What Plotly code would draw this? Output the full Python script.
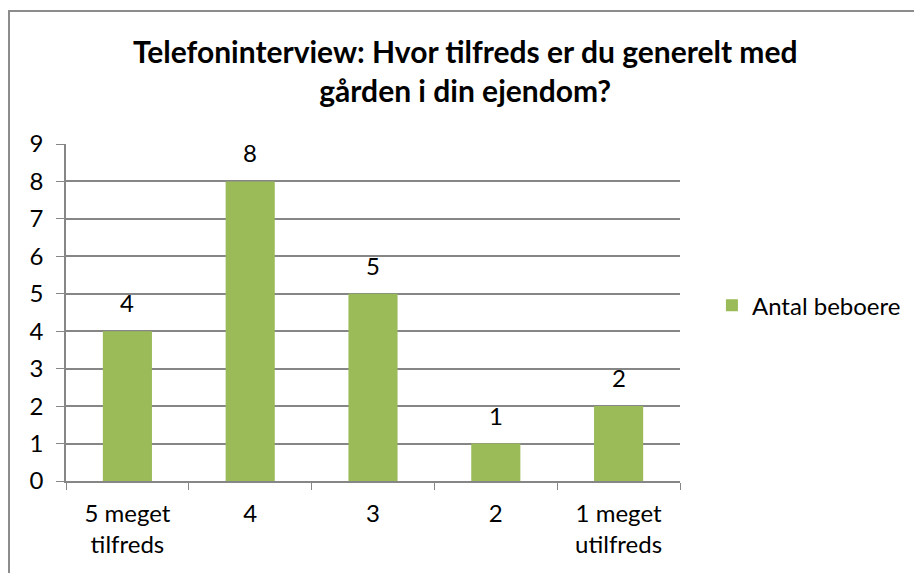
import plotly.graph_objects as go

# Telefoninterview - tilfredshed med gården
kategorier = ["5 meget<br>tilfreds", "4", "3", "2", "1 meget<br>utilfreds"]
antal_beboere = [4, 8, 5, 1, 2]
serie_navn = "Antal beboere"

groen = "#9BBB59"
graa = "#868686"
skrift = "Lato, Open Sans, sans-serif"

fig = go.Figure()

fig.add_trace(go.Bar(
    x=kategorier,
    y=antal_beboere,
    name=serie_navn,
    marker=dict(color=groen, line=dict(width=0)),
    cliponaxis=False
))

# dataetiketter over søjlerne (x som kategori-indeks)
for i, val in enumerate(antal_beboere):
    fig.add_annotation(
        x=i, y=val, text=str(val), showarrow=False,
        yanchor="bottom", yshift=12,
        font=dict(size=24, color="black", family=skrift)
    )

fig.update_layout(
    width=914, height=573,
    paper_bgcolor="white", plot_bgcolor="white",
    margin=dict(l=66, r=234, t=144, b=92, autoexpand=False),
    font=dict(family=skrift, size=24, color="black"),
    title=dict(
        text="<b>Telefoninterview: Hvor tilfreds er du generelt med<br>gården i din ejendom?</b>",
        xref="container", x=0.509, xanchor="center",
        yref="container", y=1 - 63 / 573, yanchor="middle",
        font=dict(size=30, family=skrift, color="black")
    ),
    bargap=0.6,
    showlegend=True,
    legend=dict(
        x=1.052, y=0.52, xanchor="left", yanchor="middle",
        font=dict(size=24, family=skrift),
        itemwidth=30,
        bgcolor="rgba(0,0,0,0)"
    ),
    xaxis=dict(
        type="category",
        showline=True, linecolor=graa, linewidth=1.5,
        ticks="outside", tickson="boundaries", ticklen=7, tickcolor=graa,
        showgrid=False, tickfont=dict(size=24), ticklabelstandoff=10
    ),
    yaxis=dict(
        range=[0, 9], dtick=1,
        showline=True, linecolor=graa, linewidth=1.5,
        ticks="outside", ticklen=8, tickcolor=graa,
        showgrid=True, gridcolor=graa, gridwidth=1.5,
        zeroline=False, tickfont=dict(size=24), ticklabelstandoff=8
    ),
    shapes=[dict(
        type="rect", xref="paper", yref="paper",
        x0=(9 - 66) / 614, x1=1.5, y0=-0.5, y1=(481 - 11) / 337,
        line=dict(color="#8C8C8C", width=2), fillcolor="rgba(0,0,0,0)"
    )]
)

fig.write_html("out.html", config={"displayModeBar": False},
               post_script="document.body.style.margin='0';")
